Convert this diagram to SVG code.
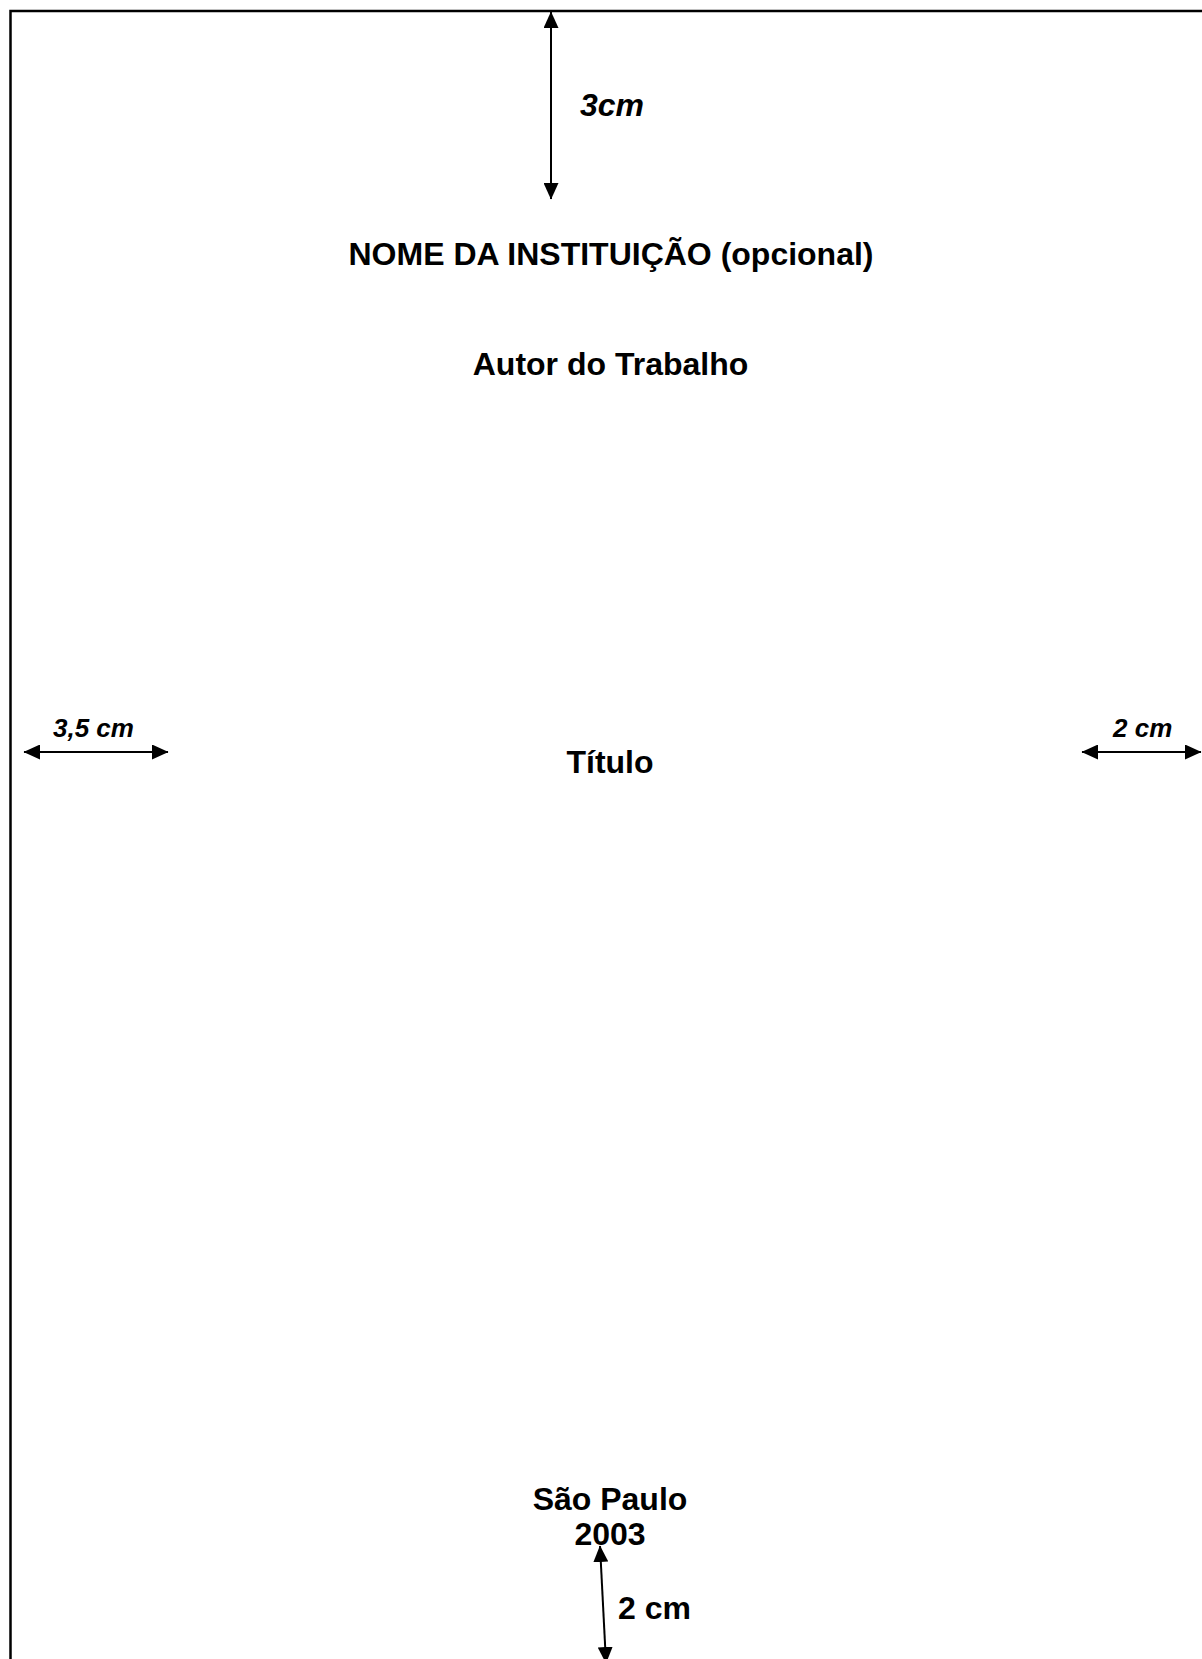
<svg xmlns="http://www.w3.org/2000/svg" width="1202" height="1659" viewBox="0 0 1202 1659">
<style>
.t{font-family:"Liberation Sans",Arial,sans-serif;font-weight:bold;font-size:32px;fill:#000;text-anchor:middle}
.m{font-family:"Liberation Sans",Arial,sans-serif;font-weight:bold;font-style:italic;fill:#000}
.a{stroke:#000;stroke-width:2;fill:none;marker-start:url(#ah);marker-end:url(#ah)}
</style>
<defs>
<marker id="ah" markerUnits="userSpaceOnUse" markerWidth="17" markerHeight="15" refX="16" refY="7.5" orient="auto-start-reverse" viewBox="0 0 17 15">
<path d="M0,0 L16.5,7.5 L0,15 Z" fill="#000"/>
</marker>
</defs>
<rect width="1202" height="1659" fill="#fff"/>
<g id="page-border">
<path d="M10.5,1659 V11 H1202" fill="none" stroke="#000" stroke-width="2.5"/>
</g>
<g id="connectors">
<line class="a" x1="551" y1="12" x2="551" y2="199"/>
<line class="a" x1="24" y1="752" x2="168" y2="752"/>
<line class="a" x1="1082" y1="752" x2="1201" y2="752"/>
<line class="a" x1="600" y1="1546" x2="606" y2="1663"/>
</g>
<g id="label-top"><text class="m" x="580" y="116" font-size="32">3cm</text></g>
<g id="label-left"><text class="m" x="53" y="737" font-size="26">3,5 cm</text></g>
<g id="label-right"><text class="m" x="1113" y="737" font-size="26">2 cm</text></g>
<g id="instituicao"><text class="t" x="611" y="265">NOME DA INSTITUIÇÃO (opcional)</text></g>
<g id="autor"><text class="t" x="610.5" y="375">Autor do Trabalho</text></g>
<g id="titulo"><text class="t" x="610" y="773">Título</text></g>
<g id="local"><text class="t" x="610" y="1510">São Paulo</text></g>
<g id="ano"><text class="t" x="610" y="1545">2003</text></g>
<g id="label-bottom"><text class="t" x="618" y="1619" style="text-anchor:start">2 cm</text></g>
</svg>
